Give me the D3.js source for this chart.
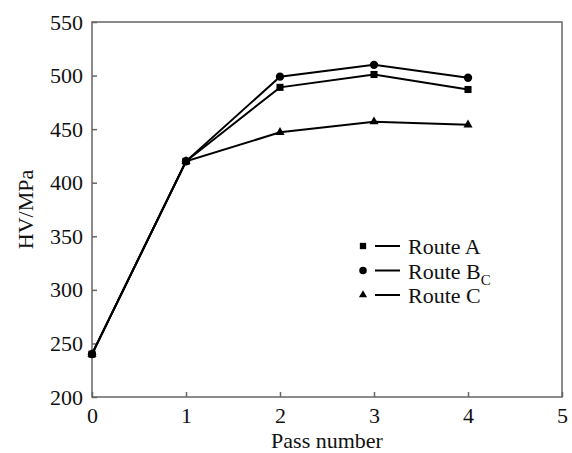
<html>
<script src='https://d3js.org/d3.v7.min.js'></script>
<style>
  body { margin: 0; background: white; }
  text { font-family: "Liberation Serif", "Times New Roman", serif; fill: #111; }
</style>
<body onload='init()'>
<svg width=572 height=453></svg>
<script>
// Data
const passes = [0, 1, 2, 3, 4]
const routeA = [240, 420, 489, 501, 487]
const routeBC = [240, 420, 499, 510, 498]
const routeC = [240, 420, 447, 457, 454]
const xTicks = [0, 1, 2, 3, 4, 5]
const yTicks = [200, 250, 300, 350, 400, 450, 500, 550]

function init() {
    const svg = d3.select("svg")
    const left = 92, right = 562, top = 22, bottom = 397

    // Scale
    const x = d3.scaleLinear().domain([0, 5]).range([left, right])
    const y = d3.scaleLinear().domain([200, 550]).range([bottom, top])

    // Frame
    svg.append("rect")
        .attr("x", left).attr("y", top)
        .attr("width", right - left).attr("height", bottom - top)
        .attr("fill", "none").attr("stroke", "#666").attr("stroke-width", 1.5)

    // Y axis (inward ticks)
    const yAxis = svg.append("g")
        .attr("transform", `translate(${left},0)`)
        .call(d3.axisRight(y).tickValues(yTicks).tickSize(5).tickFormat(d3.format("d")))
    yAxis.select(".domain").remove()
    yAxis.selectAll("line").attr("stroke", "#666").attr("stroke-width", 1.5)
    yAxis.selectAll("text")
        .attr("x", -9).attr("text-anchor", "end")
        .style("font-size", "22px")

    // X axis (inward ticks)
    const xAxis = svg.append("g")
        .attr("transform", `translate(0,${bottom})`)
        .call(d3.axisTop(x).tickValues(xTicks).tickSize(5).tickFormat(d3.format("d")))
    xAxis.select(".domain").remove()
    xAxis.selectAll("line").attr("stroke", "#666").attr("stroke-width", 1.5)
    xAxis.selectAll("text")
        .attr("y", 26).attr("dy", 0)
        .style("font-size", "22px")

    // Axis labels
    svg.append("text")
        .attr("x", (left + right) / 2).attr("y", 448)
        .attr("text-anchor", "middle").style("font-size", "22px")
        .text("Pass number")
    svg.append("text")
        .attr("transform", `translate(33,${(top + bottom) / 2}) rotate(-90)`)
        .attr("text-anchor", "middle").style("font-size", "22px")
        .text("HV/MPa")

    const series = [
        { name: "Route A", values: routeA, symbol: d3.symbolSquare, size: 50 },
        { name: "Route B", sub: "C", values: routeBC, symbol: d3.symbolCircle, size: 55 },
        { name: "Route C", values: routeC, symbol: d3.symbolTriangle, size: 36 }
    ]

    const line = d3.line().x((d, i) => x(passes[i])).y(d => y(d))

    series.forEach(s => {
        svg.append("path")
            .datum(s.values)
            .attr("d", line)
            .attr("fill", "none").attr("stroke", "#000").attr("stroke-width", 2)
        svg.append("g").selectAll("path")
            .data(s.values)
            .enter()
            .append("path")
            .attr("transform", (d, i) => `translate(${x(passes[i])},${y(d)})`)
            .attr("d", d3.symbol().type(s.symbol).size(s.size))
            .attr("fill", "#000")
    })

    // Legend
    const legend = svg.append("g")
    series.forEach((s, i) => {
        const ly = 246 + i * 24.5
        legend.append("path")
            .attr("transform", `translate(363,${ly})`)
            .attr("d", d3.symbol().type(s.symbol).size(s.size * 0.8))
            .attr("fill", "#000")
        legend.append("line")
            .attr("x1", 375).attr("x2", 400).attr("y1", ly).attr("y2", ly)
            .attr("stroke", "#000").attr("stroke-width", 2)
        const t = legend.append("text")
            .attr("x", 408).attr("y", ly + 8)
            .style("font-size", "22px")
            .text(s.name)
        if (s.sub) {
            t.append("tspan").attr("dy", 6).style("font-size", "15px").text(s.sub)
        }
    })
}
</script>
</body>
</html>
